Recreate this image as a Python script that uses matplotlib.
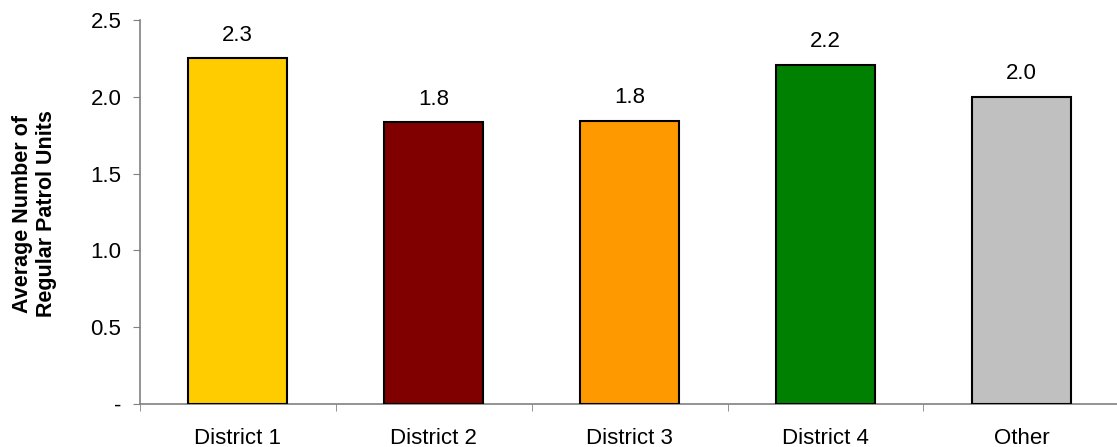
import matplotlib
matplotlib.use("Agg")
import matplotlib.pyplot as plt

plt.rcParams['font.family'] = ['Liberation Sans', 'DejaVu Sans']

categories = ["District 1", "District 2", "District 3", "District 4", "Other"]
values = [2.25, 1.835, 1.845, 2.21, 2.0]
labels = ["2.3", "1.8", "1.8", "2.2", "2.0"]
colors = ["#FFCC00", "#800000", "#FF9900", "#008000", "#C0C0C0"]
yticks = [0, 0.5, 1.0, 1.5, 2.0, 2.5]
ytick_labels = ["-", "0.5", "1.0", "1.5", "2.0", "2.5"]

fig = plt.figure(figsize=(11.17, 4.47), dpi=100)
ax = fig.add_axes([139.5 / 1117, 43 / 447, 980 / 1117, 384 / 447])

x = list(range(len(categories)))
ax.bar(x, values, width=0.505, color=colors, edgecolor="black", linewidth=1.5, zorder=3)

for xi, v, lab in zip(x, values, labels):
    ax.annotate(lab, (xi, v), xytext=(0, 9), textcoords="offset points",
                ha="center", va="bottom", fontsize=16)

ax.set_xlim(-0.5, 4.5)
ax.set_ylim(0, 2.5)
ax.set_yticks(yticks)
ax.set_yticklabels(ytick_labels, fontsize=16)

ax.set_xticks(x)
ax.set_xticklabels(categories, fontsize=16)
ax.tick_params(axis="x", which="major", length=0, pad=17)
ax.set_xticks([i - 0.5 for i in range(len(categories) + 1)], minor=True)
ax.tick_params(axis="x", which="minor", length=5, color="#808080", direction="out")
ax.tick_params(axis="y", length=5, color="#808080", direction="out", pad=8)

for s in ["top", "right"]:
    ax.spines[s].set_visible(False)
for s in ["left", "bottom"]:
    ax.spines[s].set_color("#808080")
    ax.spines[s].set_linewidth(1.2)

ax.set_ylabel("Average Number of\nRegular Patrol Units", fontsize=15.5,
              fontweight="bold")
ax.yaxis.set_label_coords(-0.0842, 0.495)

fig.savefig("out.png", dpi=100)
